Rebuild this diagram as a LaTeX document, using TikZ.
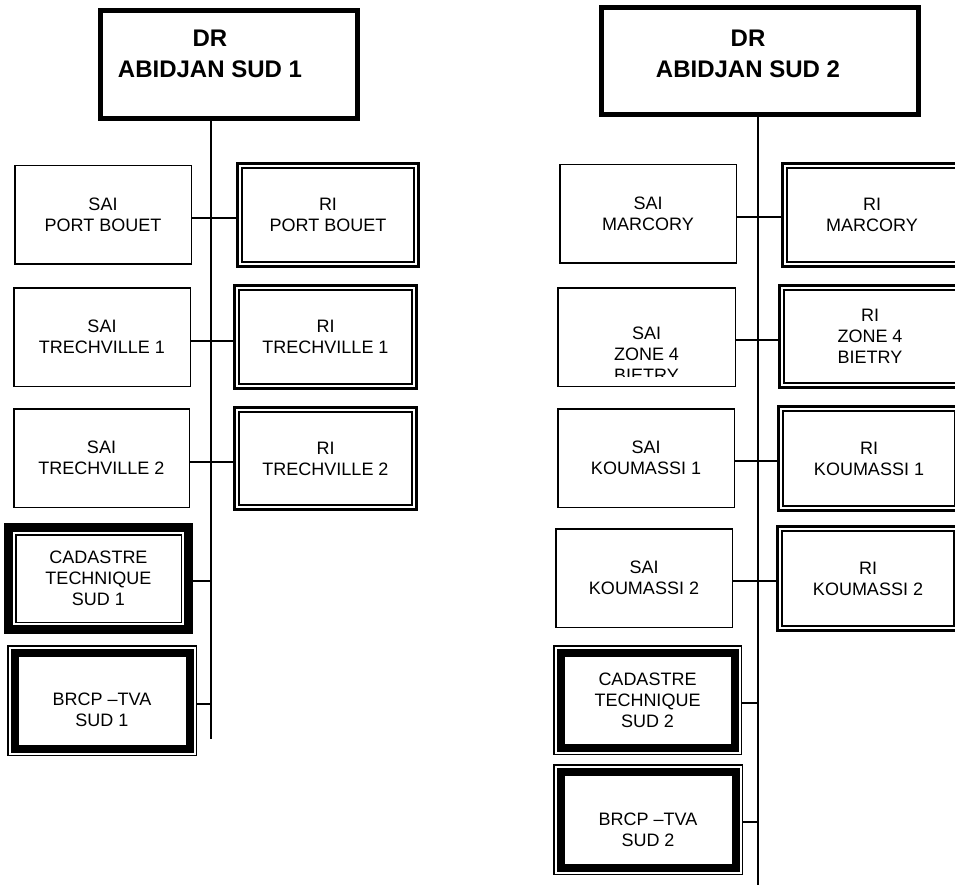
\documentclass[tikz,border=0pt]{standalone}
\usepackage{fontspec}
\setmainfont{Liberation Sans}
\tikzset{
  lbl/.style={font=\fontsize{18}{21}\selectfont, align=center, inner sep=0pt, outer sep=0pt},
  ttl/.style={font=\fontsize{24}{31}\selectfont\bfseries, align=center, inner sep=0pt, outer sep=0pt},
  plainbx/.style={draw, line width=1.5pt, lbl},
  ribx/.style={draw, line width=3pt, lbl},
  thinbx/.style={draw, line width=1.5pt, lbl},
  thickbx/.style={draw, line width=9pt, lbl},
  titlebx/.style={draw, line width=5pt, inner sep=0pt, outer sep=0pt},
  conn/.style={line width=1.5pt},
  heavy/.style={line width=8pt},
  light/.style={line width=1.5pt},
  riline/.style={line width=2pt}
}
\newcommand\riinner[1]{\draw[riline] ([shift={(4.5,4.5)}]#1.north west) rectangle ([shift={(-4.5,-4.5)}]#1.south east);}
\begin{document}
\begin{tikzpicture}[x=1pt,y=-1pt]
\useasboundingbox (0,0) rectangle (955,893);
\clip (0,0) rectangle (955,893);

% ---------------- left group ----------------
\node[titlebx, minimum width={262-5}, minimum height={113-5}] (T1) at (229,64.5) {};
\node[ttl, anchor=north] (T1t) at (210,30) {DR\\ABIDJAN SUD 1};

\node[plainbx, minimum width={178-1.5}, minimum height={100-1.5}] (A1) at (103,215) {SAI\\PORT BOUET};
\node[ribx, minimum width={184-3}, minimum height={106-3}] (B1) at (328,215) {RI\\PORT BOUET};
\riinner{B1}
\node[plainbx, minimum width={178-1.5}, minimum height={100-1.5}] (A2) at (102,337) {SAI\\TRECHVILLE 1};
\node[ribx, minimum width={185-3}, minimum height={106-3}] (B2) at (325.5,337) {RI\\TRECHVILLE 1};
\riinner{B2}
\node[plainbx, minimum width={177-1.5}, minimum height={100-1.5}] (A3) at (101.5,458) {SAI\\TRECHVILLE 2};
\node[ribx, minimum width={185-3}, minimum height={105-3}] (B3) at (325.5,458.5) {RI\\TRECHVILLE 2};
\riinner{B3}

\node[thickbx, minimum width={189-9}, minimum height={111-9}] (C1) at (98.5,578.5) {CADASTRE\\TECHNIQUE\\SUD 1};
\draw[light] ([shift={(7.25,7.25)}]C1.north west) rectangle ([shift={(-7.25,-7.25)}]C1.south east);

\node[thinbx, minimum width={190-1.5}, minimum height={111-1.5}] (D1) at (102,700.5) {};
\draw[heavy] ([shift={(6.75,6.75)}]D1.north west) rectangle ([shift={(-6.75,-6.75)}]D1.south east);
\node[lbl, anchor=north] (D1t) at (102,693) {BRCP –TVA\\SUD 1};

\coordinate (L1) at (211,218);
\coordinate (L2) at (211,341);
\coordinate (L3) at (211,462);
\coordinate (L4) at (211,581);
\coordinate (L5) at (211,704);
\coordinate (Lend) at (211,739);
\draw[conn] (Lend |- T1.south) -- (Lend);
\draw[conn] (A1.east |- L1) -- (B1.west |- L1);
\draw[conn] (A2.east |- L2) -- (B2.west |- L2);
\draw[conn] (A3.east |- L3) -- (B3.west |- L3);
\draw[conn] (C1.east |- L4) -- (L4);
\draw[conn] (D1.east |- L5) -- (L5);

% ---------------- right group ----------------
\node[titlebx, minimum width={322-5}, minimum height={112-5}] (T2) at (760,61) {};
\node[ttl, anchor=north] (T2t) at (748,30) {DR\\ABIDJAN SUD 2};

\node[plainbx, minimum width={178-1.5}, minimum height={100-1.5}] (A4) at (648,214) {SAI\\MARCORY};
\node[ribx, minimum width={182-3}, minimum height={106-3}] (B4) at (872,215) {RI\\MARCORY};
\riinner{B4}

\node[plainbx, minimum width={179-1.5}, minimum height={100-1.5}] (A5) at (646.5,337) {};
\begin{scope}
  \clip (A5.north west) rectangle ([yshift=10pt]A5.south east);
  \node[lbl, anchor=north] (A5t) at (646.5,327) {SAI\\ZONE 4\\BIETRY};
\end{scope}
\node[ribx, minimum width={184-3}, minimum height={105-3}] (B5) at (870,336.5) {RI\\ZONE 4\\BIETRY};
\riinner{B5}

\node[plainbx, minimum width={178-1.5}, minimum height={100-1.5}] (A6) at (646,458) {SAI\\KOUMASSI 1};
\node[ribx, minimum width={184-3}, minimum height={107-3}] (B6) at (869,458.5) {RI\\KOUMASSI 1};
\riinner{B6}
\node[plainbx, minimum width={178-1.5}, minimum height={100-1.5}] (A7) at (644,578) {SAI\\KOUMASSI 2};
\node[ribx, minimum width={184-3}, minimum height={107-3}] (B7) at (868,578.5) {RI\\KOUMASSI 2};
\riinner{B7}

\node[thinbx, minimum width={189-1.5}, minimum height={110-1.5}] (C2) at (647.5,700) {CADASTRE\\TECHNIQUE\\SUD 2};
\draw[heavy] ([shift={(6.75,6.75)}]C2.north west) rectangle ([shift={(-6.75,-6.75)}]C2.south east);

\node[thinbx, minimum width={190-1.5}, minimum height={111-1.5}] (D2) at (648,819.5) {};
\draw[heavy] ([shift={(6.75,6.75)}]D2.north west) rectangle ([shift={(-6.75,-6.75)}]D2.south east);
\node[lbl, anchor=north] (D2t) at (648,813) {BRCP –TVA\\SUD 2};

\coordinate (R1) at (758,217);
\coordinate (R2) at (758,340);
\coordinate (R3) at (758,461);
\coordinate (R4) at (758,581);
\coordinate (R5) at (758,703);
\coordinate (R6) at (758,822);
\coordinate (Rend) at (758,885);
\draw[conn] (Rend |- T2.south) -- (Rend);
\draw[conn] (A4.east |- R1) -- (B4.west |- R1);
\draw[conn] (A5.east |- R2) -- (B5.west |- R2);
\draw[conn] (A6.east |- R3) -- (B6.west |- R3);
\draw[conn] (A7.east |- R4) -- (B7.west |- R4);
\draw[conn] (C2.east |- R5) -- (R5);
\draw[conn] (D2.east |- R6) -- (R6);
\end{tikzpicture}
\end{document}
